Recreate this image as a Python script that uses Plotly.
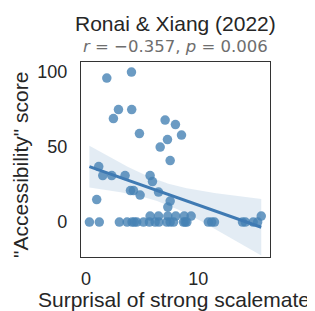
import numpy as np
import plotly.graph_objects as go

# Surprisal of strong scalemate (x) and "Accessibility" score (y)
upper_x = [1.85, 4.05, 2.89, 4.07, 2.44, 4.76, 7.05, 7.97, 8.51, 7.26, 6.61, 7.5,
           1.13, 1.49, 2.29, 3.48, 5.71, 5.92, 3.96, 4.23, 4.82, 6.46, 0.95, 7.5, 7.29]
upper_y = [96, 100, 75, 75, 69, 59, 68, 65, 58, 55, 50, 41,
           37, 31, 31, 31, 31, 27, 21, 21, 18, 20, 15, 14, 10]
low_x = [5.71, 6.46, 7.29, 8.0, 8.75, 9.37, 15.62]
low_y = [4, 4, 4, 4, 4, 4, 4]
zero_x = [0.3, 1.18, 2.97, 3.66, 4.1, 4.31, 4.52, 5.12, 5.65, 6.16, 6.5, 7.2, 7.5,
          7.8, 8.69, 8.84, 8.99, 10.9, 11.2, 11.45, 13.95, 14.2, 14.9, 15.3]
zero_y = [0] * len(zero_x)

x_ticks = [0, 10]
y_ticks = [0, 50, 100]

x = np.array(upper_x + low_x + zero_x, dtype=float)
y = np.array(upper_y + low_y + zero_y, dtype=float)

# linear fit + 95% confidence band
n = len(x)
slope, intercept = np.polyfit(x, y, 1)
xs = np.linspace(x.min(), x.max(), 100)
ys = intercept + slope * xs
resid = y - (intercept + slope * x)
s = np.sqrt(np.sum(resid ** 2) / (n - 2))
sxx = np.sum((x - x.mean()) ** 2)
tval = 2.004
se = s * np.sqrt(1.0 / n + (xs - x.mean()) ** 2 / sxx)
lo = ys - tval * se
hi = ys + tval * se

blue = "#4682b4"
fig = go.Figure()
fig.add_trace(go.Scatter(x=np.concatenate([xs, xs[::-1]]), y=np.concatenate([hi, lo[::-1]]),
                         fill="toself", fillcolor="rgba(70,130,180,0.15)",
                         line=dict(width=0), hoverinfo="skip", showlegend=False))
fig.add_trace(go.Scatter(x=x, y=y, mode="markers",
                         marker=dict(size=9.5, color=blue, opacity=0.8, line=dict(width=0)),
                         showlegend=False))
fig.add_trace(go.Scatter(x=xs, y=ys, mode="lines",
                         line=dict(color="#3f7ab3", width=3), showlegend=False))

OFF = 8  # default page body margin
W, H = 315 - OFF, 311 - OFF
L, T = 81 - OFF, 62 - OFF
R, B = 45, 54
pw, ph = W - L - R, H - T - B


def px(xp):
    return (xp - OFF - L) / pw


def py(yp):
    return 1 - (yp - OFF - T) / ph


font_fam = "Liberation Sans, Arial, sans-serif"
fig.update_layout(
    width=W, height=H,
    margin=dict(l=L, r=R, t=T, b=B),
    paper_bgcolor="white", plot_bgcolor="white",
    font=dict(family=font_fam, color="#262626", size=18),
    xaxis=dict(range=[-0.45, 16.4], tickvals=x_ticks, showgrid=False, zeroline=False,
               showline=True, mirror=True, linecolor="#333333", linewidth=1.3,
               ticks="outside", ticklen=5, tickcolor="rgba(0,0,0,0)",
               tickfont=dict(size=18), automargin=False),
    yaxis=dict(range=[-23.3, 106.7], tickvals=y_ticks, showgrid=False, zeroline=False,
               showline=True, mirror=True, linecolor="#333333", linewidth=1.3,
               ticks="outside", ticklen=9, tickcolor="rgba(0,0,0,0)",
               tickfont=dict(size=18), automargin=False),
    annotations=[
        dict(text="Ronai & Xiang (2022)", x=px(175), y=py(23), xref="paper", yref="paper",
             showarrow=False, yanchor="middle", xanchor="center",
             font=dict(size=21, color="#262626")),
        dict(text="<i>r</i> = \u22120.357, <i>p</i> = 0.006", x=px(175), y=py(46.5),
             xref="paper", yref="paper", showarrow=False, yanchor="middle", xanchor="center",
             font=dict(size=16.5, color="#6e6e6e", family="DejaVu Sans, sans-serif")),
        dict(text="Surprisal of strong scalemate", x=px(173.5), y=py(299), xref="paper",
             yref="paper", showarrow=False, yanchor="middle", xanchor="center",
             font=dict(size=21, color="#262626")),
        dict(text="\"Accessibility\" score", x=px(20), y=py(165), xref="paper",
             yref="paper", showarrow=False, yanchor="middle", xanchor="center",
             textangle=-90, font=dict(size=21, color="#262626")),
    ],
)
fig.write_html("out.html")
